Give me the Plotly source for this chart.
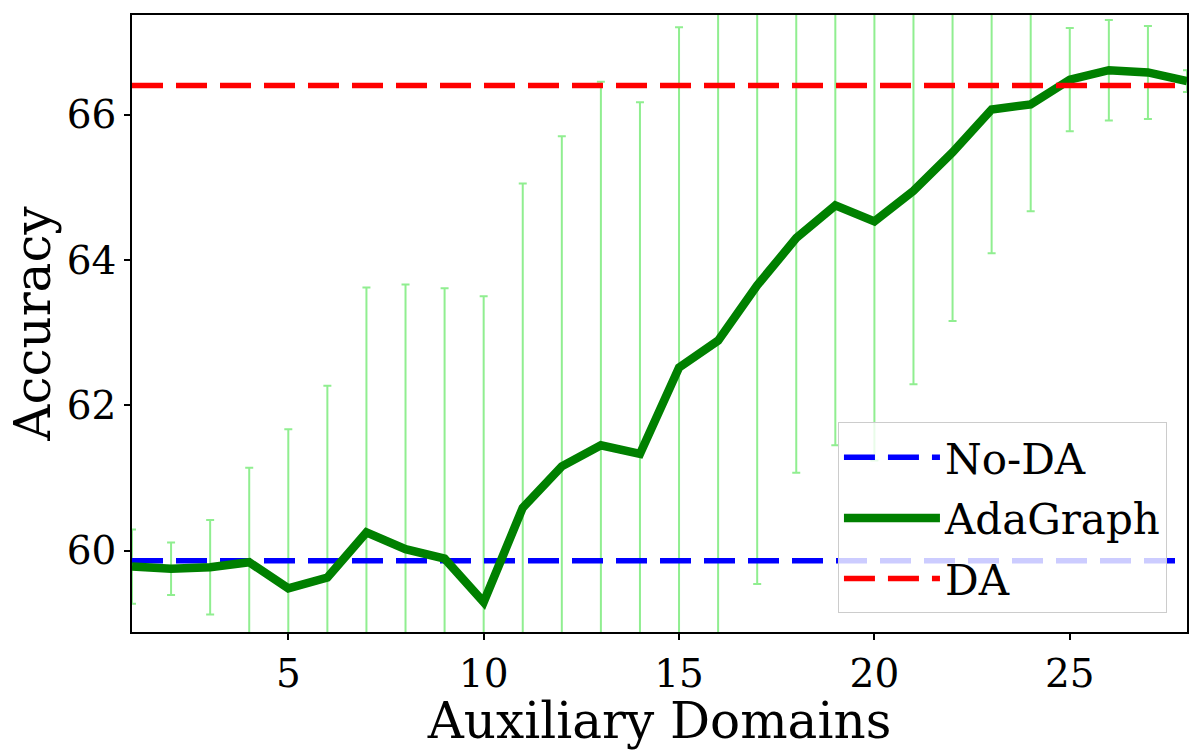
import plotly.graph_objects as go

domains = list(range(1, 29))
adagraph = [59.78, 59.75, 59.77, 59.84, 59.48, 59.63, 60.25, 60.02, 59.89, 59.29,
            60.59, 61.16, 61.45, 61.33, 62.52, 62.89, 63.65, 64.30, 64.75, 64.53,
            64.95, 65.48, 66.07, 66.14, 66.48, 66.61, 66.58, 66.46]
adagraph_err = [0.51, 0.36, 0.65, 1.30, 2.19, 2.64, 3.37, 3.64, 3.72, 4.21,
                4.46, 4.54, 5.00, 4.84, 4.68, 4.70, 4.11, 3.23, 3.30, 3.29,
                2.66, 2.32, 1.98, 1.47, 0.71, 0.69, 0.64, 0.15]
no_da = 59.86
da = 66.40

FONT = "DejaVu Serif"
fig = go.Figure()

# error bars (drawn beneath the lines)
fig.add_trace(go.Scatter(
    x=domains, y=adagraph, mode="markers",
    marker=dict(size=1, opacity=0),
    error_y=dict(type="data", array=adagraph_err, visible=True,
                 color="#90EE90", thickness=2, width=4),
    showlegend=False, hoverinfo="skip"))

fig.add_trace(go.Scatter(
    x=[domains[0], domains[-1]], y=[no_da, no_da], mode="lines", name="No-DA",
    legendgroup="a",
    line=dict(color="blue", width=5.5, dash="31px,13px")))

fig.add_trace(go.Scatter(
    x=domains, y=adagraph, mode="lines", name="AdaGraph",
    legendgroup="b",
    line=dict(color="green", width=8.5)))

fig.add_trace(go.Scatter(
    x=[domains[0], domains[-1]], y=[da, da], mode="lines", name="DA",
    legendgroup="c",
    line=dict(color="red", width=5.5, dash="31px,13px")))

fig.update_layout(
    width=1200, height=750,
    margin=dict(l=132, r=11, t=15, b=114),
    paper_bgcolor="white", plot_bgcolor="white",
    font=dict(family=FONT, color="black"),
    showlegend=True,
    legend=dict(x=0.981, y=0.03, xanchor="right", yanchor="bottom",
                itemwidth=96, traceorder="grouped", tracegroupgap=3,
                bgcolor="rgba(255,255,255,0.8)", bordercolor="#cccccc", borderwidth=1,
                font=dict(family=FONT, size=42, color="black")),
    xaxis=dict(range=[1, 28], tickvals=[5, 10, 15, 20, 25], ticks="outside",
               ticklen=6, tickwidth=1.5, tickcolor="black",
               showline=True, linecolor="black", linewidth=1.5, mirror=True,
               showgrid=False, zeroline=False,
               tickfont=dict(family=FONT, size=39),
               title=dict(text="Auxiliary Domains", font=dict(family=FONT, size=50), standoff=8)),
    yaxis=dict(range=[58.88, 67.37], tickvals=[60, 62, 64, 66], ticks="outside",
               ticklen=6, tickwidth=1.5, tickcolor="black",
               showline=True, linecolor="black", linewidth=1.5, mirror=True,
               showgrid=False, zeroline=False,
               tickfont=dict(family=FONT, size=39),
               title=dict(text="Accuracy", font=dict(family=FONT, size=50), standoff=0)),
)

fig.write_html("out.html")
